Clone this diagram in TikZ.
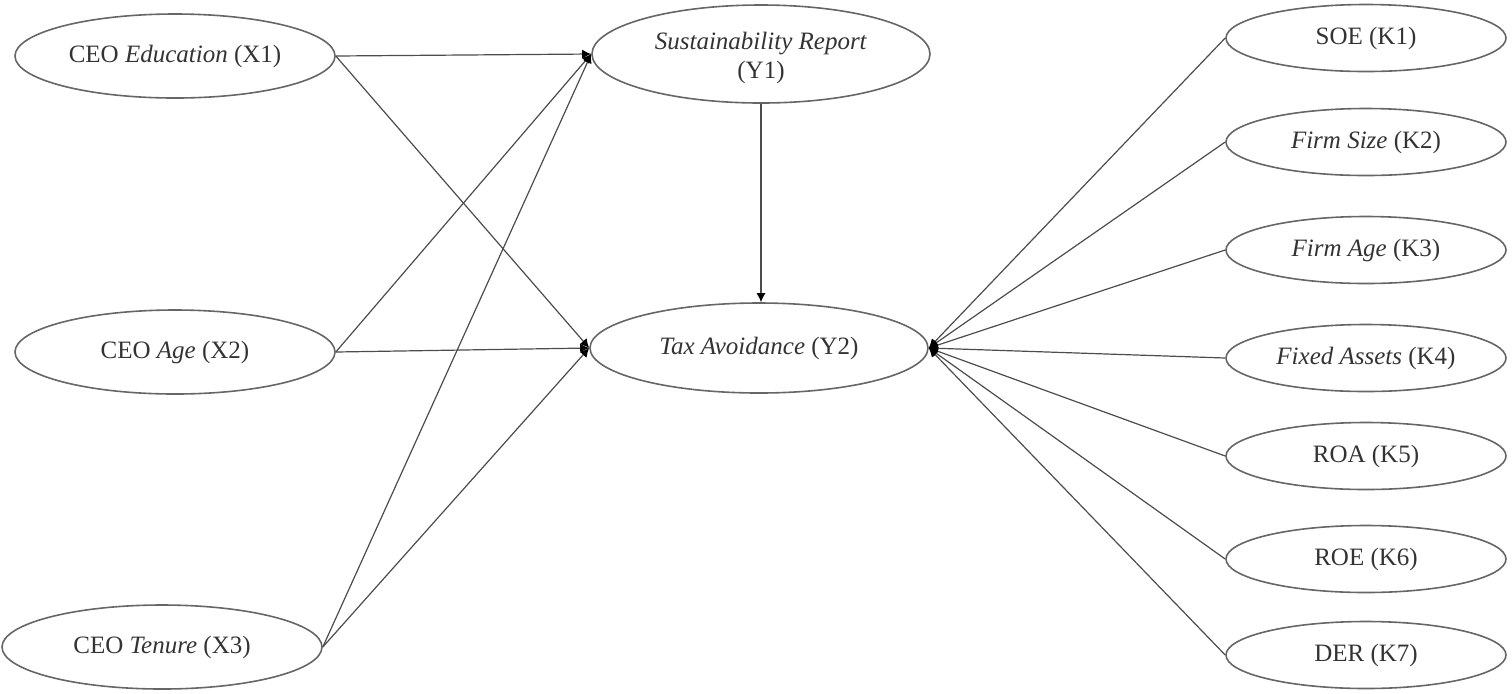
\documentclass[tikz,border=0pt]{standalone}
\usepackage{fontspec}
\setmainfont{Liberation Serif}
\usetikzlibrary{shapes.geometric,arrows.meta}
\begin{document}
\begin{tikzpicture}[x=0.5pt,y=-0.5pt,
  every node/.style={font=\fontsize{12.5}{14.5}\selectfont, text=black!80},
  var/.style={ellipse, draw=black!60, line width=0.8pt, inner sep=0pt, align=center},
  xvar/.style={var, minimum width=160pt, minimum height=42pt},
  yvar/.style={var, minimum width=169pt, minimum height=47pt},
  kvar/.style={var, minimum width=140pt, minimum height=33.5pt},
  link/.style={draw=black!70, line width=0.6pt},
  arr/.style={link, -{Latex[length=4.5pt,width=4.5pt,color=black]}}]
\useasboundingbox (0,0) rectangle (1512,693);
\node[xvar] (X1) at (175,56) {CEO \textit{Education} (X1)};
\node[xvar] (X2) at (175,352) {CEO \textit{Age} (X2)};
\node[xvar] (X3) at (162,647) {CEO \textit{Tenure} (X3)};
\node[yvar, minimum height=49pt] (Y1) at (761,54) {};
\node[align=center] (Y1t) at (761,58) {\textit{Sustainability Report}\\(Y1)};
\node[yvar, minimum height=45pt] (Y2) at (759,348) {\textit{Tax Avoidance} (Y2)};
\node[kvar] (K1) at (1366,38) {SOE (K1)};
\node[kvar] (K2) at (1366,142) {\textit{Firm Size} (K2)};
\node[kvar] (K3) at (1366,250) {\textit{Firm Age} (K3)};
\node[kvar] (K4) at (1366,358) {\textit{Fixed Assets} (K4)};
\node[kvar] (K5) at (1366,456) {ROA (K5)};
\node[kvar] (K6) at (1366,559) {ROE (K6)};
\node[kvar] (K7) at (1366,655) {DER (K7)};
\foreach \s in {X1,X2,X3}{
  \draw[arr] (\s.east) -- (Y1.west);
  \draw[arr] (\s.east) -- (Y2.west);
}
\draw[arr] (Y1.south) -- (Y2.north -| Y1.south);
\foreach \k in {K1,K2,K3,K4,K5,K6,K7}{
  \draw[arr] (\k.west) -- (Y2.east);
}
\end{tikzpicture}
\end{document}
